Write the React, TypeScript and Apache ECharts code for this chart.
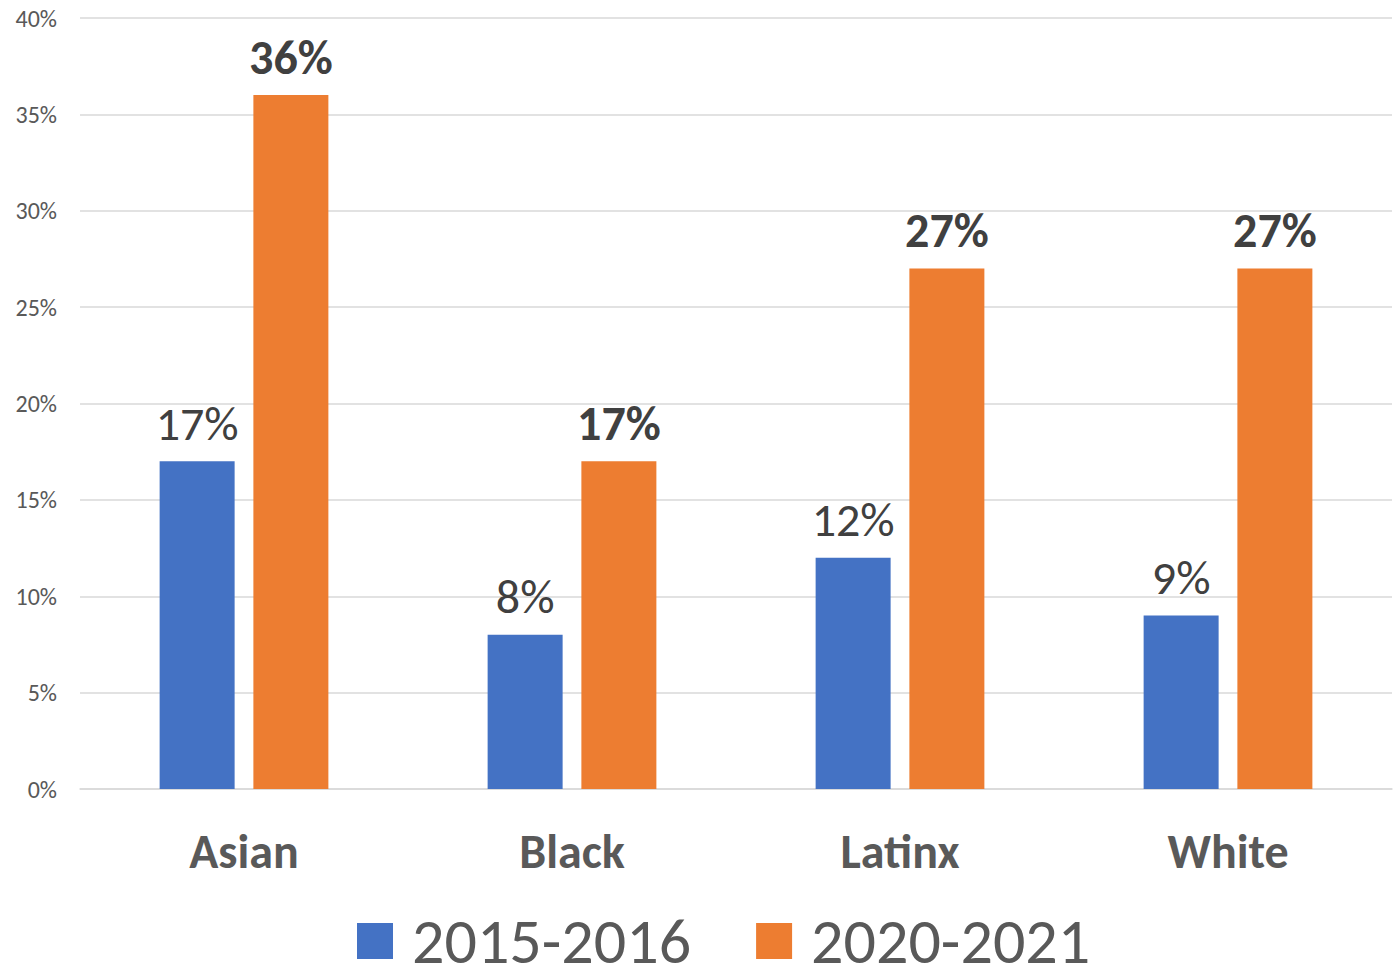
import React, { useEffect, useRef } from "react";
import * as echarts from "echarts";

const categories = ["Asian", "Black", "Latinx", "White"];
const series2015 = [17, 8, 12, 9];
const series2020 = [36, 17, 27, 27];
const seriesNames = ["2015-2016", "2020-2021"];
const FONT = "Carlito, Calibri, 'Open Sans', 'Liberation Sans', sans-serif";

export default function App() {
  const ref = useRef<HTMLDivElement>(null);
  useEffect(() => {
    document.body.style.margin = "0";
    const chart = echarts.init(ref.current!, null, { renderer: "svg" });
    chart.setOption({
      animation: false,
      textStyle: { fontFamily: FONT },
      grid: { left: 80, right: 7, top: 18, bottom: 177, containLabel: false },
      legend: {
        top: 904,
        left: 352,
        itemWidth: 36,
        itemHeight: 36,
        itemGap: 65,
        icon: "rect",
        textStyle: { fontSize: 64, color: "#595959", fontFamily: FONT, padding: [0, 0, 0, 14] },
        data: seriesNames,
      },
      xAxis: {
        type: "category",
        data: categories,
        axisLine: { lineStyle: { color: "#d9d9d9", width: 1.5 } },
        axisTick: { show: false },
        axisLabel: { fontSize: 48, fontWeight: "bold", color: "#595959", margin: 38, fontFamily: FONT },
      },
      yAxis: {
        type: "value",
        min: 0,
        max: 40,
        interval: 5,
        axisLabel: { formatter: "{value}%", fontSize: 24, color: "#595959", margin: 23, fontFamily: FONT },
        splitLine: { lineStyle: { color: "#d9d9d9", width: 1.5 } },
        axisLine: { show: false },
        axisTick: { show: false },
      },
      series: [
        {
          name: seriesNames[0],
          type: "bar",
          data: series2015,
          barWidth: 75,
          barGap: "25%",
          itemStyle: { color: "#4472C4" },
          label: {
            show: true,
            position: "top",
            distance: 14,
            formatter: "{c}%",
            fontSize: 48,
            color: "#404040",
            fontFamily: FONT,
          },
        },
        {
          name: seriesNames[1],
          type: "bar",
          data: series2020,
          barWidth: 75,
          itemStyle: { color: "#ED7D31" },
          label: {
            show: true,
            position: "top",
            distance: 14,
            formatter: "{c}%",
            fontSize: 48,
            fontWeight: "bold",
            color: "#404040",
            fontFamily: FONT,
          },
        },
      ],
    });
    return () => chart.dispose();
  }, []);
  return <div ref={ref} style={{ width: 1399, height: 966 }} />;
}
